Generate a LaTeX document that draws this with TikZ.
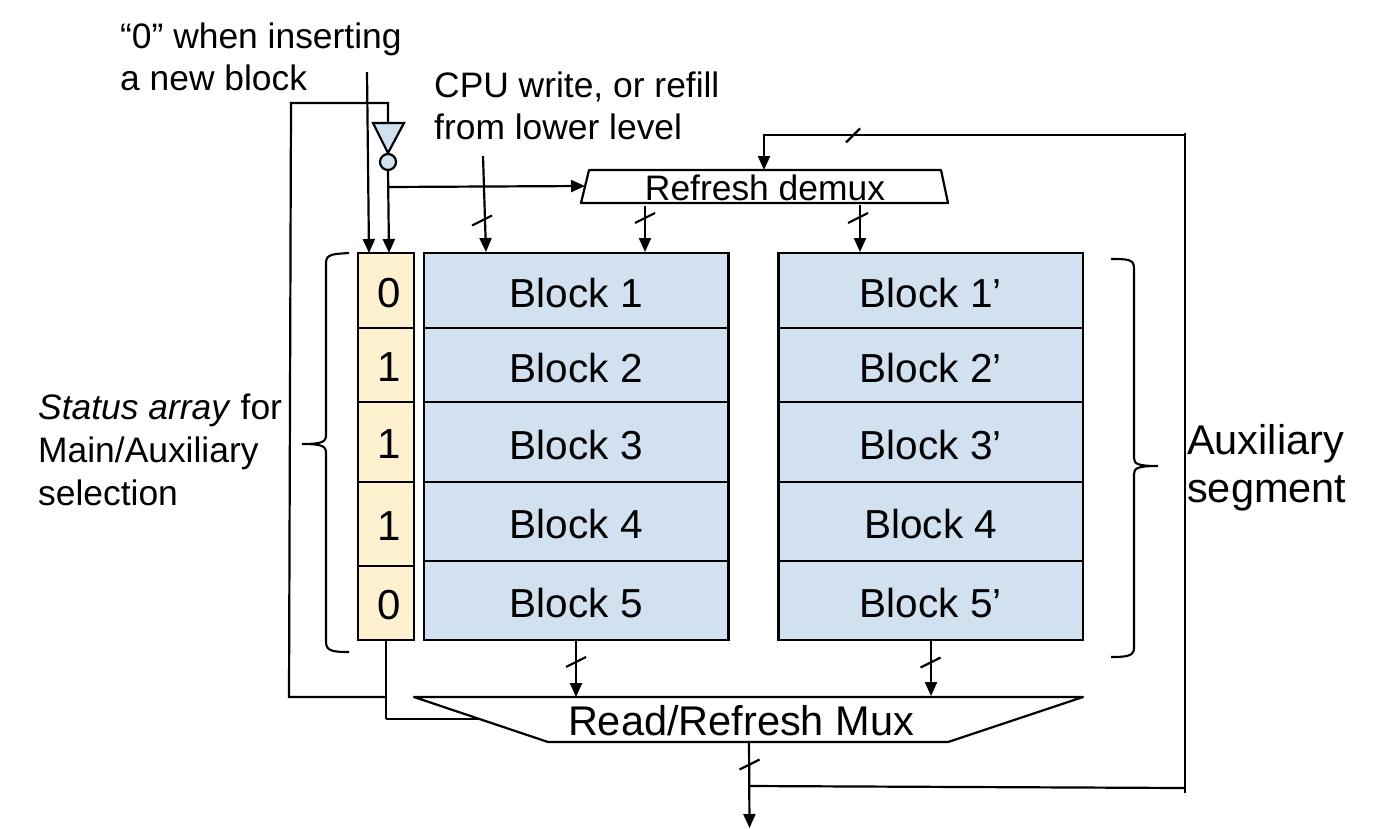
\documentclass[tikz,border=0pt]{standalone}
\usepackage{fontspec}
\setmainfont{Liberation Sans}
\usetikzlibrary{arrows.meta,calc}
\definecolor{cream}{HTML}{FDF1D0}
\definecolor{paleblue}{HTML}{D1E1F0}
\newcommand{\smalltxt}{\fontsize{35.4}{43}\selectfont}
\newcommand{\bigtxt}{\fontsize{40.5}{48}\selectfont}
\newcommand{\hugetxt}{\fontsize{41.5}{48}\selectfont}
\tikzset{
  x=1pt,y=-1pt,
  wire/.style={line width=2.2pt,draw=black},
  arr/.style={wire,-{Triangle[length=14pt,width=12pt]}},
  tickline/.style={line width=2.2pt,draw=black},
  bracepath/.style={line width=2.1pt,draw=black},
  statuscell/.style={draw=black,line width=2.2pt,fill=cream,inner sep=0pt,outer sep=0pt,minimum width=56pt,anchor=north west,font=\fontsize{42}{48}\selectfont,text height=33pt,text depth=0pt},
  blockcell/.style={draw=black,line width=2.2pt,fill=paleblue,inner sep=0pt,outer sep=0pt,minimum width=304.5pt,anchor=north west,font=\bigtxt,text height=34pt,text depth=0pt},
  smalllabel/.style={inner sep=0pt,anchor=north west,align=left,font=\smalltxt},
  biglabel/.style={inner sep=0pt,anchor=north west,align=left,font=\hugetxt},
  muxshape/.style={line width=2.2pt,draw=black,fill=white,line join=round},
}
\newcommand{\tickat}[1]{\draw[tickline] ([shift={(-10,5)}]#1) -- ([shift={(10,-5)}]#1);}
\begin{document}
\begin{tikzpicture}
\path[use as bounding box] (0,0) rectangle (1388,828);
% status cells
\node[statuscell,minimum height=75pt] (s1) at (358,253) {\hspace*{7pt}0};
\node[statuscell,minimum height=74pt] (s2) at (358,328) {\hspace*{6pt}1};
\node[statuscell,minimum height=80pt] (s3) at (358,402) {\hspace*{6pt}1};
\node[statuscell,minimum height=84pt] (s4) at (358,482) {\hspace*{6pt}1};
\node[statuscell,minimum height=74pt] (s5) at (358,566) {\hspace*{7pt}0};
% main blocks
\node[blockcell,minimum height=75pt] (a1) at (424,253) {Block 1};
\node[blockcell,minimum height=74pt] (a2) at (424,328) {Block 2};
\node[blockcell,minimum height=80pt] (a3) at (424,402) {Block 3};
\node[blockcell,minimum height=79pt] (a4) at (424,482) {Block 4};
\node[blockcell,minimum height=79pt] (a5) at (424,561) {Block 5};
% auxiliary blocks
\node[blockcell,minimum height=75pt] (c1) at (778.5,253) {Block 1’};
\node[blockcell,minimum height=74pt] (c2) at (778.5,328) {Block 2’};
\node[blockcell,minimum height=80pt] (c3) at (778.5,402) {Block 3’};
\node[blockcell,minimum height=79pt] (c4) at (778.5,482) {Block 4};
\node[blockcell,minimum height=79pt] (c5) at (778.5,561) {Block 5’};
% muxes
\draw[muxshape] (589,170) -- (941,170) -- (948,203) -- (581,203) -- cycle;
\node[inner sep=0pt,anchor=base,font=\smalltxt] (demux) at (765,200) {Refresh demux};
\coordinate (loopwire) at (386,719);
\coordinate (loopmid) at (478,719);
\draw[wire] (loopwire) -- (loopmid);
\draw[muxshape] (414,697) -- (1083,697) -- (948,742) -- (548,742) -- cycle;
\node[inner sep=0pt,anchor=base,font=\hugetxt] (mux) at (741,735) {Read/Refresh Mux};
% inverter
\draw[muxshape,fill=paleblue,line join=miter] (373,123) -- (404,123) -- (388,153) -- cycle;
\node[draw=black,line width=2.2pt,fill=paleblue,circle,inner sep=0pt,outer sep=0pt,minimum size=16pt] (bubble) at (388,162) {};
% labels
\node[smalllabel] (zero) at (120,23) {“0” when inserting\\[-1.5pt]a new block};
\node[smalllabel] (cpu) at (434,72) {CPU write, or refill\\[-1.5pt]from lower level};
\node[smalllabel] (status) at (38,394) {\textit{Status array} for\\Main/Auxiliary\\selection};
\node[biglabel] (aux) at (1187,424) {Auxiliary\\segment};
% braces
\draw[bracepath] (349,253) .. controls (333,254) and (326,254) .. (326,263) -- (326,435)
  .. controls (326,442) and (322,444) .. (302,444) .. controls (322,444) and (326,446) .. (326,453)
  -- (326,642) .. controls (326,651) and (333,652) .. (349,652);
\draw[bracepath] (1111,259) .. controls (1127,259) and (1134,259) .. (1134,268) -- (1134,458)
  .. controls (1134,464) and (1138,466) .. (1158,466) .. controls (1138,466) and (1134,468) .. (1134,474)
  -- (1134,648) .. controls (1134,656) and (1127,657) .. (1111,657);
% free ends
\coordinate (zeroin) at (367,72);
\coordinate (zeroout) at (369,253);
\coordinate (invout) at (389,253);
\coordinate (invjoin) at (388.5,187);
\coordinate (demuxsel) at (585,186);
\coordinate (cpuin) at (483,156);
\coordinate (cpuout) at (486,252);
\coordinate (dmA) at (645,206);
\coordinate (dmAout) at (645,252);
\coordinate (dmB) at (860,205);
\coordinate (dmBout) at (860,252);
\coordinate (rdA) at (576,640);
\coordinate (rdAout) at (576,697);
\coordinate (rdB) at (931,640);
\coordinate (rdBout) at (931,696);
\coordinate (muxout) at (749,742);
\coordinate (outend) at (749.5,828);
\coordinate (fbjoin) at (749,786);
\coordinate (fbcorner) at (1185,788);
\coordinate (fbbot) at (1185,793);
\coordinate (fbtop) at (1185,133);
\coordinate (fbturn) at (1185,135);
\coordinate (fbleft) at (764,135);
\coordinate (fbend) at (764,170);
\coordinate (ctlstart) at (386,640);
\coordinate (ctlturn) at (386,697);
\coordinate (ctlleft) at (289,697);
\coordinate (ctlup) at (291,103);
\coordinate (ctlright) at (388,103);
\coordinate (ctlin) at (388,123);
% connectors
\draw[arr] (zeroin) -- (zeroout);
\draw[arr] (bubble.south) -- (invout);
\draw[arr] (invjoin) -- (demuxsel);
\draw[arr] (cpuin) -- (cpuout);
\draw[arr] (dmA) -- (dmAout);
\draw[arr] (dmB) -- (dmBout);
\draw[arr] (rdA) -- (rdAout);
\draw[arr] (rdB) -- (rdBout);
\draw[arr] (muxout) -- (outend);
\draw[wire] (fbjoin) -- (fbcorner);
\draw[wire] (fbbot) -- (fbtop);
\draw[arr] (fbturn) -- (fbleft) -- (fbend);
\draw[wire] (ctlstart) -- (loopwire);
\draw[wire] (ctlturn) -- (ctlleft) -- (ctlup) -- (ctlright) -- (ctlin);
% ticks
\coordinate (t1) at (482,220.5);
\coordinate (t2) at (645,218);
\coordinate (t3) at (858,218);
\coordinate (t4) at (576,662);
\coordinate (t5) at (930.5,662.5);
\coordinate (t6) at (749.5,764.5);
\coordinate (t7) at (853,135.5);
\tickat{t1}\tickat{t2}\tickat{t3}\tickat{t4}\tickat{t5}\tickat{t6}
\draw[tickline] ([shift={(-7,7)}]t7) -- ([shift={(7,-7)}]t7);
\end{tikzpicture}
\end{document}
